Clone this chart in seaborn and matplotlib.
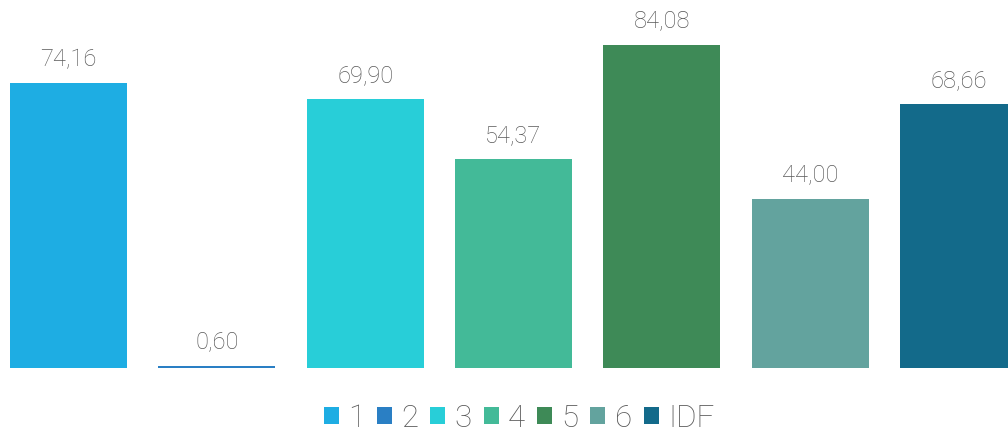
import matplotlib
matplotlib.use("Agg")
import matplotlib.pyplot as plt
import seaborn as sns
import pandas as pd
from matplotlib.patches import Patch

categories = ["1", "2", "3", "4", "5", "6", "IDF"]
values = [74.16, 0.60, 69.90, 54.37, 84.08, 44.00, 68.66]
colors = ["#1EADE3", "#2A7FC4", "#28CED8", "#43BA98", "#3E8A57", "#63A39E", "#136A8A"]

sns.set_theme(style="white")
plt.rcParams["font.family"] = ["Roboto", "DejaVu Sans"]

df = pd.DataFrame({"cat": categories, "val": values})

fig = plt.figure(figsize=(10.08, 4.34), dpi=100)
ax = fig.add_axes([0, 0.152, 1, 0.848])
sns.barplot(data=df, x="cat", y="val", hue="cat", palette=colors,
            width=0.79, saturation=1, legend=False, linewidth=0, ax=ax)

ax.set_xlim(-0.462, 6.334)
ax.set_ylim(0, 95.8)
ax.axis("off")

for i, v in enumerate(values):
    ax.annotate(f"{v:.2f}".replace(".", ","), (i, v), xytext=(0, 9),
                textcoords="offset points", ha="center", va="bottom",
                fontsize=17, fontweight="light", color="#595959")

handles = [Patch(facecolor=c, edgecolor="none") for c in colors]
fig.legend(handles, categories, loc="lower center", ncol=7,
           bbox_to_anchor=(0.515, -0.062), frameon=False,
           prop={"size": 22.5, "weight": "light"}, labelcolor="#595959",
           handlelength=0.48, handleheight=0.48, handletextpad=0.3,
           columnspacing=0.38)

fig.savefig("out.png", dpi=100)
